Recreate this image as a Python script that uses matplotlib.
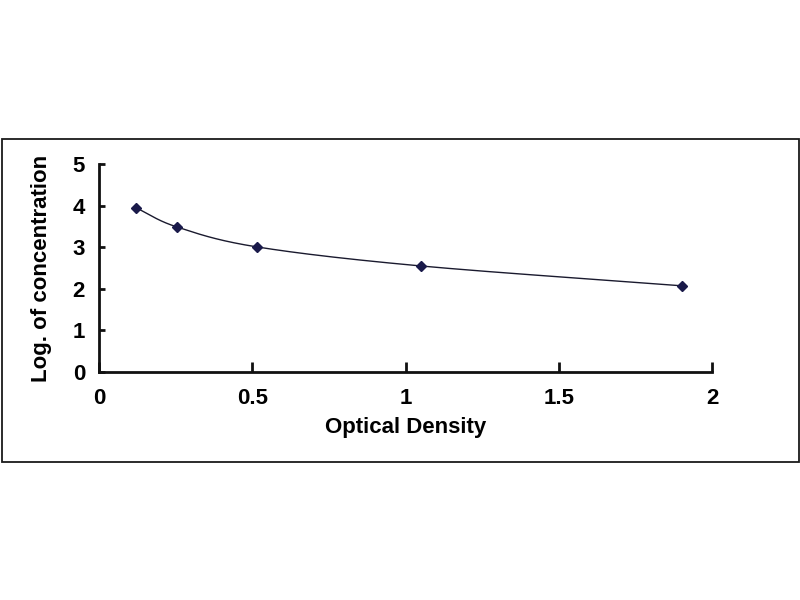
import numpy as np
import matplotlib
matplotlib.use("Agg")
import matplotlib.pyplot as plt
from matplotlib.patches import Rectangle

# Data
optical_density = [0.121, 0.254, 0.514, 1.049, 1.903]
log_concentration = [3.95, 3.49, 3.01, 2.55, 2.07]
x_ticks = [0, 0.5, 1, 1.5, 2]
x_tick_labels = ["0", "0.5", "1", "1.5", "2"]
y_ticks = [0, 1, 2, 3, 4, 5]
x_label = "Optical Density"
y_label = "Log. of concentration"

plt.rcParams['font.family'] = ['Liberation Sans', 'DejaVu Sans']

fig = plt.figure(figsize=(8, 6), dpi=100)
fig.patch.set_facecolor('white')

# outer frame
fig.add_artist(Rectangle((2/800, 1-461.5/600), 797/800, (461.5-138.5)/600,
                         transform=fig.transFigure, fill=False,
                         edgecolor='#1a1a1a', linewidth=1.3))

ax = fig.add_axes([99/800, 1-371.7/600, (712-99)/800, (371.7-164.3)/600])
ax.set_xlim(0, 2)
ax.set_ylim(0, 5)

# Smooth line through the points (Catmull-Rom, like a spreadsheet smoothed line)
def catmull_rom(xs, ys, n=40):
    xs = np.asarray(xs, float); ys = np.asarray(ys, float)
    sx, sy = 2.0, 5.0 * (207.4 / 613.0)  # approximate aspect scaling
    P = np.column_stack([xs / sx, ys / sy])
    P = np.vstack([2*P[0]-P[1], P, 2*P[-1]-P[-2]])
    out = []
    for i in range(1, len(P)-2):
        p0, p1, p2, p3 = P[i-1], P[i], P[i+1], P[i+2]
        t = np.linspace(0, 1, n)[:, None]
        seg = 0.5*((2*p1) + (-p0+p2)*t + (2*p0-5*p1+4*p2-p3)*t**2 + (-p0+3*p1-3*p2+p3)*t**3)
        out.append(seg)
    out = np.vstack(out)
    return out[:, 0]*sx, out[:, 1]*sy

cx, cy = catmull_rom(optical_density, log_concentration)
ax.plot(cx, cy, color='#1a1a2e', linewidth=1.0)
ax.plot(optical_density, log_concentration, linestyle='none', marker='D',
        markersize=5, color='#1a1a4a')

for s in ['top', 'right']:
    ax.spines[s].set_visible(False)
for s in ['left', 'bottom']:
    ax.spines[s].set_linewidth(2.0)
    ax.spines[s].set_color('#111111')

ax.set_xticks(x_ticks)
ax.set_xticklabels(x_tick_labels)
ax.set_yticks(y_ticks)
ax.tick_params(axis='both', direction='in', width=2.0, color='#111111',
               labelsize=16)
ax.tick_params(axis='x', length=7, pad=12)
ax.tick_params(axis='y', length=4.5, pad=10)
for lab in ax.get_xticklabels() + ax.get_yticklabels():
    lab.set_fontweight('bold')

ax.set_xlabel(x_label, fontsize=16, fontweight='bold')
ax.set_ylabel(y_label, fontsize=16, fontweight='bold')
ax.xaxis.set_label_coords(0.5, -0.218)
ax.yaxis.set_label_coords(-0.076, 0.5)

fig.savefig('out.png', dpi=100, facecolor='white')
